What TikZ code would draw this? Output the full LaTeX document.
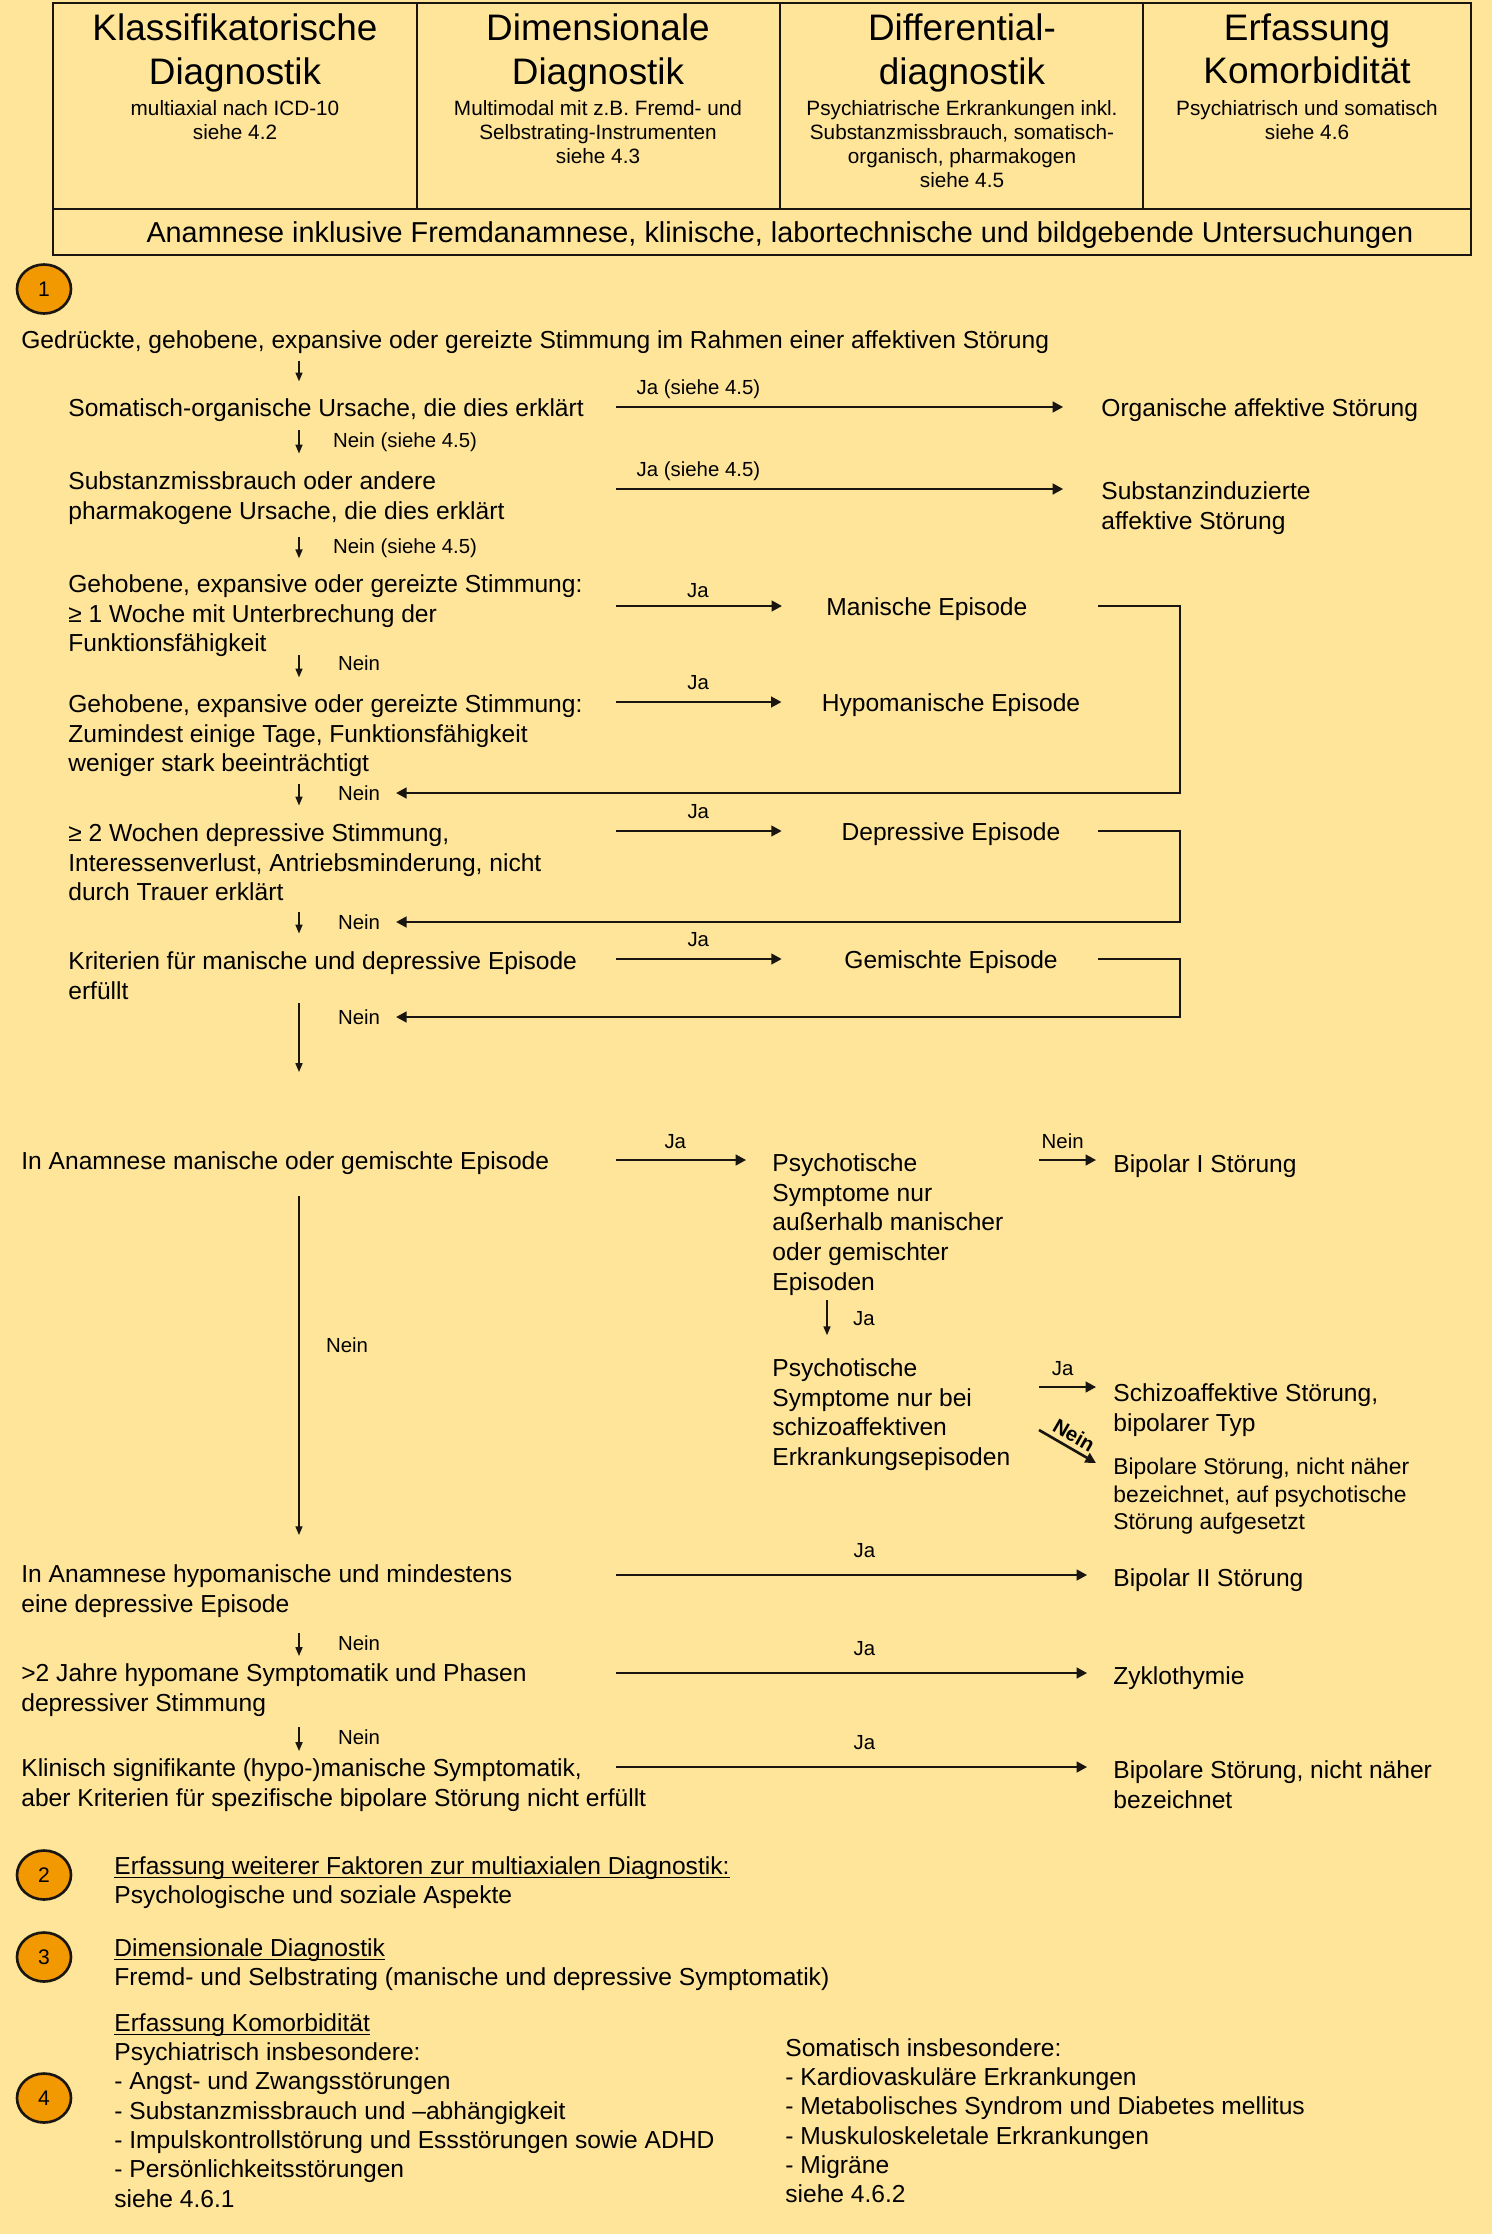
\documentclass[tikz,border=0pt]{standalone}
\usepackage{fontspec}
\setmainfont{Liberation Sans}
\usetikzlibrary{arrows.meta,shapes.geometric}

\definecolor{paper}{RGB}{255,229,153}
\definecolor{badge}{RGB}{242,152,0}
\definecolor{ink}{RGB}{25,22,18}

\newlength{\unterwd}
\newcommand{\unterstr}[1]{\settowidth{\unterwd}{#1}\rlap{\rule[-2.2pt]{\unterwd}{0.9pt}}#1}

\begin{document}
\begin{tikzpicture}[
    x=0.02cm, y=-0.02cm,
    frame/.style={draw=ink, line width=1.4pt},
    head/.style={anchor=north, align=center, inner sep=0pt,
                 font=\fontsize{21}{25}\selectfont},
    sub/.style={anchor=north, align=center, inner sep=0pt,
                font=\fontsize{11.8}{13.6}\selectfont},
    cond/.style={anchor=north west, align=left, inner xsep=0pt,
                 inner ysep=4pt, font=\fontsize{14}{17}\selectfont},
    result/.style={cond},
    episode/.style={cond, anchor=north, align=center, minimum width=5.16cm},
    small/.style={cond, font=\fontsize{13}{15.6}\selectfont},
    foot/.style={cond, font=\fontsize{14}{16.7}\selectfont},
    lbl/.style={inner sep=1pt, text depth=0pt,
                font=\fontsize{11.6}{13}\selectfont},
    num/.style={ellipse, draw=ink, fill=badge, line width=1.5pt,
                minimum width=1.08cm, minimum height=0.98cm, inner sep=0pt,
                font=\fontsize{12}{14}\selectfont},
    hflow/.style={-{Triangle[length=6pt,width=6pt]}, line width=1.5pt, draw=ink},
    vflow/.style={-{Triangle[length=5pt,width=4pt]}, line width=0.8pt,
                  draw=ink, shorten >=5.5pt},
]

    \useasboundingbox (0,0) rectangle (1492,2234);
    \fill[paper] (0,0) rectangle (1492,2234);

    % header table
    \draw[frame] (53,3) rectangle (1471,255);
    \draw[frame] (53,209) -- (1471,209);
    \draw[frame] (417,3) -- (417,209);
    \draw[frame] (780,3) -- (780,209);
    \draw[frame] (1143,3) -- (1143,209);

    \node[head] (hd1) at (235,13) {Klassifikatorische\\Diagnostik};
    \node[sub] (hs1) at (235,100) {multiaxial nach ICD-10\\siehe 4.2};
    \node[head] (hd2) at (598,13) {Dimensionale\\Diagnostik};
    \node[sub] (hs2) at (598,100) {Multimodal mit z.B. Fremd- und\\Selbstrating-Instrumenten\\siehe 4.3};
    \node[head] (hd3) at (962,13) {Differential-\\diagnostik};
    \node[sub] (hs3) at (962,100) {Psychiatrische Erkrankungen inkl.\\Substanzmissbrauch, somatisch-\\organisch, pharmakogen\\siehe 4.5};
    \node[head] (hd4) at (1307,13) {Erfassung\\Komorbidität};
    \node[sub] (hs4) at (1307,100) {Psychiatrisch und somatisch\\siehe 4.6};
    \node[font=\fontsize{16.4}{19}\selectfont] (anam) at (780,235)
        {Anamnese inklusive Fremdanamnese, klinische, labortechnische und bildgebende Untersuchungen};

    \node[num] (m1) at (44,289) {1};

    % left column of questions
    \node[cond] (g0) at (21,323) {Gedrückte, gehobene, expansive oder gereizte Stimmung im Rahmen einer affektiven Störung};
    \node[cond] (s1) at (68,391) {Somatisch-organische Ursache, die dies erklärt};
    \node[cond] (s2) at (68,464) {Substanzmissbrauch oder andere\\pharmakogene Ursache, die dies erklärt};
    \node[cond] (s3) at (68,567) {Gehobene, expansive oder gereizte Stimmung:\\≥ 1 Woche mit Unterbrechung der\\Funktionsfähigkeit};
    \node[cond] (s4) at (68,687) {Gehobene, expansive oder gereizte Stimmung:\\Zumindest einige Tage, Funktionsfähigkeit\\weniger stark beeinträchtigt};
    \node[cond] (s5) at (68,816) {≥ 2 Wochen depressive Stimmung,\\Interessenverlust, Antriebsminderung, nicht\\durch Trauer erklärt};
    \node[cond] (s6) at (68,944) {Kriterien für manische und depressive Episode\\erfüllt};
    \node[cond] (a1) at (21,1144) {In Anamnese manische oder gemischte Episode};
    \node[cond] (a2) at (21,1557) {In Anamnese hypomanische und mindestens\\eine depressive Episode};
    \node[cond] (a3) at (21,1656) {>2 Jahre hypomane Symptomatik und Phasen\\depressiver Stimmung};
    \node[cond] (a4) at (21,1751) {Klinisch signifikante (hypo-)manische Symptomatik,\\aber Kriterien für spezifische bipolare Störung nicht erfüllt};

    % results
    \node[result] (o1) at (1101,391) {Organische affektive Störung};
    \node[result] (o2) at (1101,474) {Substanzinduzierte\\affektive Störung};
    \node[result] (e1) at (826,590) {Manische Episode};
    \node[episode] (e2) at (951,686) {Hypomanische Episode};
    \node[episode] (e3) at (951,815) {Depressive Episode};
    \node[episode] (e4) at (951,943) {Gemischte Episode};
    \node[result] (p1) at (772,1146) {Psychotische\\Symptome nur\\außerhalb manischer\\oder gemischter\\Episoden};
    \node[result] (p2) at (772,1351) {Psychotische\\Symptome nur bei\\schizoaffektiven\\Erkrankungsepisoden};
    \node[result] (d1) at (1113,1147) {Bipolar I Störung};
    \node[result] (d2) at (1113,1376) {Schizoaffektive Störung,\\bipolarer Typ};
    \node[small] (d3) at (1113,1451) {Bipolare Störung, nicht näher\\bezeichnet, auf psychotische\\Störung aufgesetzt};
    \node[result] (d4) at (1113,1561) {Bipolar II Störung};
    \node[result] (d5) at (1113,1659) {Zyklothymie};
    \node[result] (d6) at (1113,1753) {Bipolare Störung, nicht näher\\bezeichnet};

    % "Nein" labels beside the downward arrows
    \node[lbl, anchor=west] (n2) at (331,440) {Nein (siehe 4.5)};
    \node[lbl, anchor=west] (n3) at (331,546) {Nein (siehe 4.5)};
    \node[lbl, anchor=west] (n4) at (336,663) {Nein};
    \node[lbl, anchor=west] (n5) at (336,793) {Nein};
    \node[lbl, anchor=west] (n6) at (336,922) {Nein};
    \node[lbl, anchor=west] (n7) at (336,1017) {Nein};
    \node[lbl, anchor=west] (n8) at (324,1345) {Nein};
    \node[lbl, anchor=west] (n9) at (336,1643) {Nein};
    \node[lbl, anchor=west] (n10) at (336,1737) {Nein};
    \node[lbl, anchor=west] (nj) at (851,1318) {Ja};

    % columns and arrow starts
    \coordinate (ax) at (299,0);
    \coordinate (px) at (827,0);
    \coordinate (nx) at (396,0);
    \coordinate (r1) at (616,407);
    \coordinate (r2) at (616,489);
    \coordinate (r3) at (616,606);
    \coordinate (r4) at (616,702);
    \coordinate (r5) at (616,831);
    \coordinate (r6) at (616,959);
    \coordinate (r7) at (616,1160);
    \coordinate (r8) at (616,1575);
    \coordinate (r9) at (616,1673);
    \coordinate (r10) at (616,1767);
    \coordinate (q1) at (1039,1160);
    \coordinate (q2) at (1039,1387);
    \coordinate (q3) at (1039,1430);
    \coordinate (b1) at (1098,606);
    \coordinate (b2) at (1098,831);
    \coordinate (b3) at (1098,959);

    % down the left column
    \draw[vflow] (g0.south -| ax) -- (s1.north -| ax);
    \draw[vflow, shorten <=1pt, shorten >=6pt] (s1.south -| ax) -- (s2.north -| ax);
    \draw[vflow, shorten <=3pt, shorten >=5pt] (s2.south -| ax) -- (s3.north -| ax);
    \draw[vflow, shorten <=-5.5pt] (s3.south -| ax) -- (s4.north -| ax);
    \draw[vflow, shorten >=6pt] (s4.south -| ax) -- (s5.north -| ax);
    \draw[vflow, shorten <=2pt, shorten >=6pt] (s5.south -| ax) -- (s6.north -| ax);
    \draw[vflow, shorten <=-2pt, shorten >=41pt] (s6.south -| ax) -- (a1.north -| ax);
    \draw[vflow, shorten <=8pt, shorten >=12.5pt] (a1.south -| ax) -- (a2.north -| ax);
    \draw[vflow, shorten <=5pt, shorten >=0pt] (a2.south -| ax) -- (a3.north -| ax);
    \draw[vflow, shorten <=2pt, shorten >=0pt] (a3.south -| ax) -- (a4.north -| ax);
    \draw[vflow, shorten <=-2pt, shorten >=9pt] (p1.south -| px) -- (p2.north -| px);

    % yes branches
    \draw[hflow, shorten >=21.5pt] (r1) -- node[lbl, above=5.6pt, pos=0.17] {Ja (siehe 4.5)} (r1 -| o1.west);
    \draw[hflow, shorten >=21.5pt] (r2) -- node[lbl, above=5.6pt, pos=0.17] {Ja (siehe 4.5)} (r2 -| o2.west);
    \draw[hflow, shorten >=25pt] (r3) -- node[lbl, above=3pt, pos=0.39] {Ja} (r3 -| e1.west);
    \draw[hflow, shorten >=22.7pt] (r4) -- node[lbl, above=5.6pt, pos=0.4] {Ja} (r4 -| e2.west);
    \draw[hflow, shorten >=22.7pt] (r5) -- node[lbl, above=5.6pt, pos=0.4] {Ja} (r5 -| e3.west);
    \draw[hflow, shorten >=22.7pt] (r6) -- node[lbl, above=5.6pt, pos=0.4] {Ja} (r6 -| e4.west);
    \draw[hflow, shorten >=14.7pt] (r7) -- node[lbl, above=5pt, pos=0.38] {Ja} (r7 -| p1.west);
    \draw[hflow, shorten >=9.6pt] (q1) -- node[lbl, above=5pt, pos=0.32] {Nein} (q1 -| d1.west);
    \draw[hflow, shorten >=9.6pt] (q2) -- node[lbl, above=5pt, pos=0.32] {Ja} (q2 -| d2.west);
    \draw[hflow] (q3) -- node[lbl, sloped, above=1.5pt, font=\fontsize{11.6}{13}\selectfont\bfseries] {Nein} ++(57,33);
    \draw[hflow, shorten >=14.7pt] (r8) -- node[lbl, above=8.4pt] {Ja} (r8 -| d4.west);
    \draw[hflow, shorten >=14.7pt] (r9) -- node[lbl, above=8.4pt] {Ja} (r9 -| d5.west);
    \draw[hflow, shorten >=14.7pt] (r10) -- node[lbl, above=8.4pt] {Ja} (r10 -| d6.west);

    % episodes lead back into the chain
    \draw[hflow] (b1) -- ++(82,0) |- (nx |- n5);
    \draw[hflow] (b2) -- ++(82,0) |- (nx |- n6);
    \draw[hflow] (b3) -- ++(82,0) |- (nx |- n7);

    % further steps
    \node[num] (m2) at (44,1875) {2};
    \node[foot] (f2) at (114,1849) {\unterstr{Erfassung weiterer Faktoren zur multiaxialen Diagnostik:}\\Psychologische und soziale Aspekte};
    \node[num] (m3) at (44,1957) {3};
    \node[foot] (f3) at (114,1931) {\unterstr{Dimensionale Diagnostik}\\Fremd- und Selbstrating (manische und depressive Symptomatik)};
    \node[num] (m4) at (44,2098) {4};
    \node[foot] (f4) at (114,2006) {\unterstr{Erfassung Komorbidität}\\Psychiatrisch insbesondere:\\- Angst- und Zwangsstörungen\\- Substanzmissbrauch und –abhängigkeit\\- Impulskontrollstörung und Essstörungen sowie ADHD\\- Persönlichkeitsstörungen\\siehe 4.6.1};
    \node[foot] (f5) at (785,2031) {Somatisch insbesondere:\\- Kardiovaskuläre Erkrankungen\\- Metabolisches Syndrom und Diabetes mellitus\\- Muskuloskeletale Erkrankungen\\- Migräne\\siehe 4.6.2};

\end{tikzpicture}
\end{document}
